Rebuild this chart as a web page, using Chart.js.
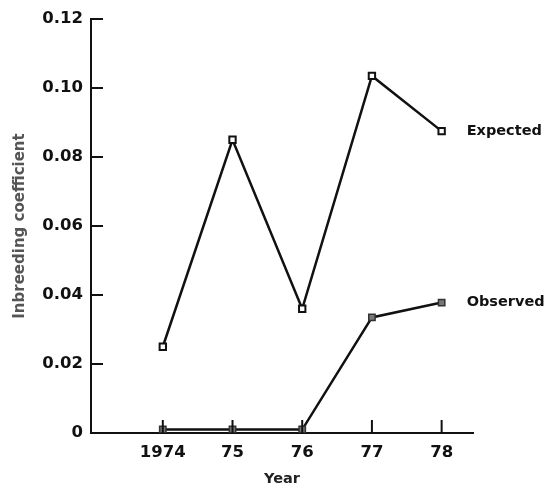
<!DOCTYPE html>
<html>
<head>
<meta charset="utf-8">
<script src="https://cdn.jsdelivr.net/npm/chart.js@4.4.1/dist/chart.umd.min.js"></script>
<style>
  html, body { margin: 0; padding: 0; background: #fff; }
  #wrap { width: 551px; height: 488px; }
</style>
</head>
<body>
<div id="wrap"><canvas id="chart" width="551" height="488"></canvas></div>
<script>
const years = [1974, 1975, 1976, 1977, 1978];
const yearLabels = ['1974', '75', '76', '77', '78'];
const expected = [0.025, 0.085, 0.036, 0.1035, 0.0875];
const observed = [0.001, 0.001, 0.001, 0.0335, 0.0378];
const seriesNames = ['Expected', 'Observed'];

const FONT = "'DejaVu Sans', sans-serif";

// inward tick marks on both axes + series names at the end of each line
const decorations = {
    id: 'decorations',
    afterDraw(chart) {
        const ctx = chart.ctx;
        const x = chart.scales.x;
        const y = chart.scales.y;
        const area = chart.chartArea;
        ctx.save();
        ctx.strokeStyle = '#111';
        ctx.lineWidth = 2;
        y.ticks.forEach(t => {
            const py = y.getPixelForValue(t.value);
            ctx.beginPath();
            ctx.moveTo(area.left, py);
            ctx.lineTo(area.left + 12, py);
            ctx.stroke();
        });
        years.forEach(v => {
            const px = x.getPixelForValue(v);
            ctx.beginPath();
            ctx.moveTo(px, area.bottom);
            ctx.lineTo(px, area.bottom - 13);
            ctx.stroke();
        });
        ctx.fillStyle = '#111';
        ctx.font = 'bold 14.5px ' + FONT;
        ctx.textBaseline = 'middle';
        chart.data.datasets.forEach((ds, i) => {
            const pt = chart.getDatasetMeta(i).data[ds.data.length - 1];
            ctx.fillText(seriesNames[i], pt.x + 25, pt.y);
        });
        ctx.restore();
    }
};

new Chart(document.getElementById('chart'), {
    type: 'line',
    data: {
        datasets: [
            {
                label: seriesNames[0],
                data: years.map((yr, i) => ({ x: yr, y: expected[i] })),
                borderColor: '#111',
                borderWidth: 2.5,
                pointStyle: 'rect',
                pointRadius: 4.5,
                pointBorderWidth: 2,
                pointBackgroundColor: '#fff',
                pointBorderColor: '#111',
                tension: 0
            },
            {
                label: seriesNames[1],
                data: years.map((yr, i) => ({ x: yr, y: observed[i] })),
                borderColor: '#111',
                borderWidth: 2.5,
                pointStyle: 'rect',
                pointRadius: 4.5,
                pointBorderWidth: 1.5,
                pointBackgroundColor: '#777',
                pointBorderColor: '#333',
                tension: 0
            }
        ]
    },
    options: {
        responsive: false,
        animation: false,
        layout: { padding: { top: 19, right: 78, left: 0, bottom: 0 } },
        plugins: {
            legend: { display: false },
            tooltip: { enabled: false }
        },
        scales: {
            x: {
                type: 'linear',
                min: 1972.97,
                max: 1978.45,
                afterFit: s => { s.height = 55; },
                afterBuildTicks: s => {
                    s.ticks = years.map(v => ({ value: v }));
                },
                grid: { display: false, drawTicks: false, tickLength: 0 },
                border: { display: true, color: '#111', width: 2 },
                ticks: {
                    color: '#111',
                    padding: 10,
                    autoSkip: false,
                    maxRotation: 0,
                    font: { family: FONT, size: 16.5, weight: 'bold' },
                    callback: v => yearLabels[years.indexOf(v)]
                },
                title: {
                    display: true,
                    text: 'Year',
                    color: '#222',
                    font: { family: FONT, size: 14.5, weight: 'bold' },
                    padding: { top: 0, bottom: 0 }
                }
            },
            y: {
                min: 0,
                max: 0.12,
                afterFit: s => { s.width = 91; },
                grid: { display: false, drawTicks: false, tickLength: 0 },
                border: { display: true, color: '#111', width: 2 },
                ticks: {
                    stepSize: 0.02,
                    color: '#111',
                    padding: 8,
                    font: { family: FONT, size: 16.5, weight: 'bold' },
                    callback: v => v === 0 ? '0' : v.toFixed(2)
                },
                title: {
                    display: true,
                    text: 'Inbreeding coefficient',
                    color: '#555',
                    font: { family: FONT, size: 15, weight: 'bold' },
                    padding: { top: 11, bottom: 0 }
                }
            }
        }
    },
    plugins: [decorations]
});
</script>
</body>
</html>
